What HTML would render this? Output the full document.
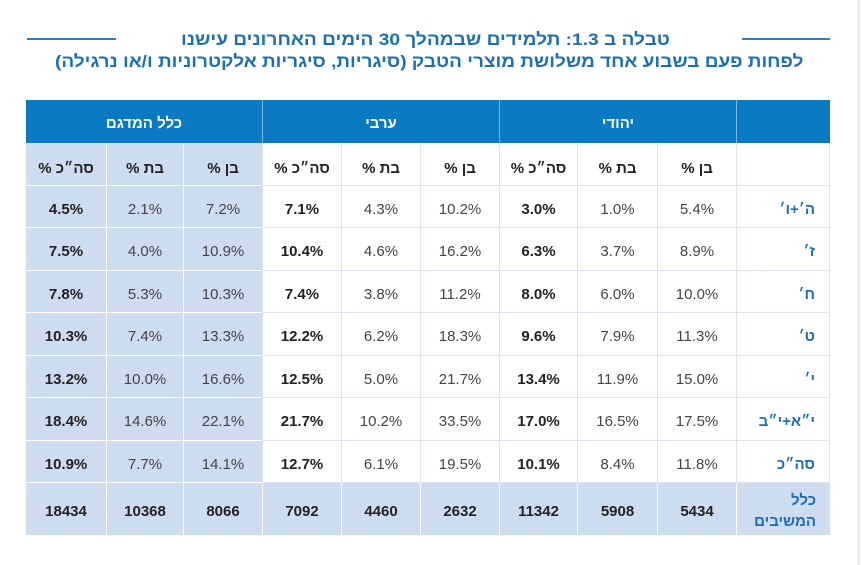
<!DOCTYPE html>
<html lang="he">
<head>
<meta charset="utf-8">
<style>
  html,body{margin:0;padding:0;background:#fff;}
  body{width:861px;height:565px;position:relative;overflow:hidden;font-family:"Liberation Sans","DejaVu Sans",sans-serif;}
  .band{position:absolute;left:857px;top:0;width:4px;height:565px;background:#f1f1f1;}
  .rule{position:absolute;top:38px;height:2px;background:#2b7fc1;}
  .ttl{position:absolute;white-space:nowrap;direction:rtl;font-weight:bold;color:#1a6fb7;font-size:17px;line-height:24px;transform-origin:0 50%;transform:scaleX(0.95);}
  .grid{position:absolute;left:26px;top:100px;width:804px;height:435px;display:grid;direction:rtl;
    grid-template-columns:94px 79px 80px 78px 79px 79px 79px 79px 77px 80px;
    grid-template-rows:43px 43px 42px 43px 42px 43px 42px 43px 42px 52px;}
  .grid>div{box-sizing:border-box;display:flex;align-items:center;justify-content:center;padding-top:5px;font-size:15px;color:#444;white-space:nowrap;}
  .h{background:#0a7bc2;color:#fff!important;font-weight:bold;padding-top:3px!important;}
  .hs{border-left:1px solid #7db8e3;}
  .w{background:#fff;border-left:1px solid #dce3ee;border-bottom:1px solid #dce3ee;}
  .b{background:#cddcef;border-left:1px solid #fff;border-bottom:1px solid #fff;}
  .nl{border-left:none!important;}
  .lab{justify-content:flex-start!important;padding-right:14px;color:#1a6db3!important;font-weight:bold;border-right:1px solid #dce3ee;}
  .sh{font-weight:bold;color:#222!important;padding-top:8px!important;}
  .t{font-weight:bold;color:#222!important;}
  .last{border-bottom:none!important;}
  .lab2{text-align:right;line-height:21px;white-space:normal!important;padding-top:4px!important;}
</style>
</head>
<body>
<div class="band"></div>
<div class="rule" style="left:27px;width:89px;"></div>
<div class="rule" style="left:742px;width:88px;"></div>
<span class="ttl" id="t1" style="left:181px;top:28px;">טבלה ב 1.3: תלמידים שבמהלך 30 הימים האחרונים עישנו</span>
<span class="ttl" id="t2" style="left:55px;top:50px;">לפחות פעם בשבוע אחד משלושת מוצרי הטבק (סיגריות, סיגריות אלקטרוניות ו/או נרגילה)</span>

<div class="grid">
  <!-- header row -->
  <div class="h hs"></div>
  <div class="h hs" style="grid-column:span 3;">יהודי</div>
  <div class="h hs" style="grid-column:span 3;">ערבי</div>
  <div class="h" style="grid-column:span 3;">כלל המדגם</div>

  <!-- subheader -->
  <div class="w lab"></div>
  <div class="w sh">בן %</div><div class="w sh">בת %</div><div class="w sh">סה״כ %</div>
  <div class="w sh">בן %</div><div class="w sh">בת %</div><div class="w sh">סה״כ %</div>
  <div class="b sh">בן %</div><div class="b sh">בת %</div><div class="b sh nl">סה״כ %</div>

  <!-- rows -->
  <div class="w lab">ה׳+ו׳</div>
  <div class="w">5.4%</div><div class="w">1.0%</div><div class="w t">3.0%</div>
  <div class="w">10.2%</div><div class="w">4.3%</div><div class="w t">7.1%</div>
  <div class="b">7.2%</div><div class="b">2.1%</div><div class="b t nl">4.5%</div>

  <div class="w lab">ז׳</div>
  <div class="w">8.9%</div><div class="w">3.7%</div><div class="w t">6.3%</div>
  <div class="w">16.2%</div><div class="w">4.6%</div><div class="w t">10.4%</div>
  <div class="b">10.9%</div><div class="b">4.0%</div><div class="b t nl">7.5%</div>

  <div class="w lab">ח׳</div>
  <div class="w">10.0%</div><div class="w">6.0%</div><div class="w t">8.0%</div>
  <div class="w">11.2%</div><div class="w">3.8%</div><div class="w t">7.4%</div>
  <div class="b">10.3%</div><div class="b">5.3%</div><div class="b t nl">7.8%</div>

  <div class="w lab">ט׳</div>
  <div class="w">11.3%</div><div class="w">7.9%</div><div class="w t">9.6%</div>
  <div class="w">18.3%</div><div class="w">6.2%</div><div class="w t">12.2%</div>
  <div class="b">13.3%</div><div class="b">7.4%</div><div class="b t nl">10.3%</div>

  <div class="w lab">י׳</div>
  <div class="w">15.0%</div><div class="w">11.9%</div><div class="w t">13.4%</div>
  <div class="w">21.7%</div><div class="w">5.0%</div><div class="w t">12.5%</div>
  <div class="b">16.6%</div><div class="b">10.0%</div><div class="b t nl">13.2%</div>

  <div class="w lab">י״א+י״ב</div>
  <div class="w">17.5%</div><div class="w">16.5%</div><div class="w t">17.0%</div>
  <div class="w">33.5%</div><div class="w">10.2%</div><div class="w t">21.7%</div>
  <div class="b">22.1%</div><div class="b">14.6%</div><div class="b t nl">18.4%</div>

  <div class="w lab">סה״כ</div>
  <div class="w">11.8%</div><div class="w">8.4%</div><div class="w t">10.1%</div>
  <div class="w">19.5%</div><div class="w">6.1%</div><div class="w t">12.7%</div>
  <div class="b">14.1%</div><div class="b">7.7%</div><div class="b t nl">10.9%</div>

  <div class="b lab lab2 last" style="border-right:none;">כלל<br>המשיבים</div>
  <div class="b t last">5434</div><div class="b t last">5908</div><div class="b t last">11342</div>
  <div class="b t last">2632</div><div class="b t last">4460</div><div class="b t last">7092</div>
  <div class="b t last">8066</div><div class="b t last">10368</div><div class="b t last nl">18434</div>
</div>

<script>
(function(){
  function fit(id,target){
    var e=document.getElementById(id);
    if(!e) return;
    var w=e.offsetWidth;
    if(w>0){ e.style.transform='scaleX('+(target/w)+')'; }
  }
  fit('t1',489);
  fit('t2',748);
})();
</script>
</body>
</html>
